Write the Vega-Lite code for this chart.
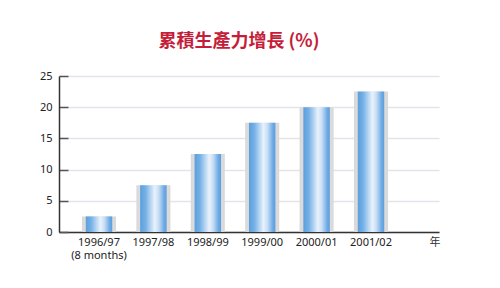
{
  "$schema": "https://vega.github.io/schema/vega-lite/v6.json",
  "width": 380,
  "height": 156,
  "autosize": {"type": "none"},
  "padding": {"left": 59, "top": 76, "right": 61, "bottom": 56},
  "background": "white",
  "config": {
    "view": {"stroke": null},
    "font": "Noto Sans",
    "axis": {"labelFont": "Noto Sans", "titleFont": "Noto Sans CJK TC"}
  },
  "title": {
    "text": "累積生產力增長 (%)",
    "font": "Noto Sans CJK TC",
    "fontSize": 18,
    "fontWeight": "bold",
    "color": "#c41e3a",
    "anchor": "middle",
    "dx": -10,
    "offset": 19
  },
  "data": {
    "values": [
      {"year": "1996/97", "growth": 2.5},
      {"year": "1997/98", "growth": 7.5},
      {"year": "1998/99", "growth": 12.5},
      {"year": "1999/00", "growth": 17.5},
      {"year": "2000/01", "growth": 20},
      {"year": "2001/02", "growth": 22.5}
    ]
  },
  "encoding": {
    "x": {
      "field": "year",
      "type": "nominal",
      "sort": null,
      "scale": {"paddingInner": 0.52, "paddingOuter": 0.7526, "align": 0.329},
      "axis": {
        "title": "年",
        "titleFontSize": 11,
        "titleFontWeight": "normal",
        "titleColor": "#333",
        "titleAnchor": "end",
        "titleAlign": "right",
        "titleBaseline": "middle",
        "titleX": 381,
        "titleY": 10,
        "labelAngle": 0,
        "labelFontSize": 11,
        "labelColor": "#222",
        "labelPadding": 4,
        "labelLineHeight": 13,
        "labelExpr": "datum.value == '1996/97' ? ['1996/97', '(8 months)'] : datum.label",
        "ticks": false,
        "domainColor": "#333",
        "domainWidth": 1.5
      }
    },
    "y": {
      "field": "growth",
      "type": "quantitative",
      "scale": {"domain": [0, 25]},
      "axis": {
        "title": null,
        "values": [0, 5, 10, 15, 20, 25],
        "labelFontSize": 11,
        "labelColor": "#222",
        "tickSize": -9,
        "tickColor": "#555",
        "tickWidth": 1.5,
        "labelPadding": 16,
        "domainColor": "#333",
        "domainWidth": 1.5,
        "grid": true,
        "gridColor": "#e6e2ec",
        "gridWidth": 1.5
      }
    }
  },
  "layer": [
    {
      "mark": {
        "type": "bar",
        "size": 34,
        "color": {
          "gradient": "linear",
          "x1": 0, "x2": 1, "y1": 0, "y2": 0,
          "stops": [
            {"offset": 0, "color": "#d8d8d8"},
            {"offset": 0.5, "color": "#ececec"},
            {"offset": 1, "color": "#d8d8d8"}
          ]
        }
      }
    },
    {
      "mark": {
        "type": "bar",
        "size": 26.5,
        "color": {
          "gradient": "linear",
          "x1": 0, "x2": 1, "y1": 0, "y2": 0,
          "stops": [
            {"offset": 0, "color": "#5b9fdc"},
            {"offset": 0.2, "color": "#74b0e6"},
            {"offset": 0.55, "color": "#e8f2fc"},
            {"offset": 0.7, "color": "#c8def5"},
            {"offset": 0.9, "color": "#6eaae4"},
            {"offset": 1, "color": "#5b9fdc"}
          ]
        }
      }
    }
  ]
}
